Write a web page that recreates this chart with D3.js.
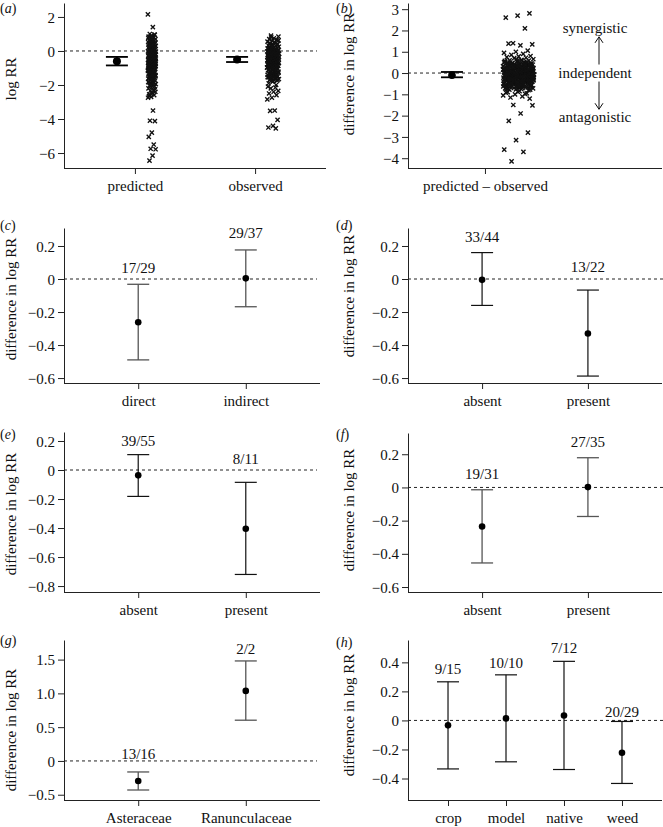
<!DOCTYPE html>
<html><head><meta charset="utf-8">
<script src="https://cdn.jsdelivr.net/npm/d3@7"></script>
<style>
body{margin:0;background:#fff}
svg text{font-family:"Liberation Serif","Times New Roman",serif;fill:#111}
</style>
</head><body>
<svg id="chart" width="663" height="827" font-family="Liberation Serif, Times New Roman, serif"></svg>
<script>
// ---------------- DATA ----------------
// (a) log RR, predicted vs observed
const aCategories = ["predicted", "observed"];
const aMeans = [-0.6, -0.5];
const aLower = [-0.85, -0.65];
const aUpper = [-0.35, -0.35];
const aTicks = [-6, -4, -2, 0, 2];
const aTickLabels = ["\u22126", "\u22124", "\u22122", "0", "2"];
const predictedLogRR = [2.15, 1.4, 1.0, 0.95, 0.9, 0.85, 0.8, 0.75, 0.7, 0.68, 0.62, 0.6, 0.55, 0.52, 0.5, 0.48, 0.45, 0.42, 0.4, 0.38, 0.35, 0.3, 0.28, 0.25, 0.22, 0.2, 0.18, 0.15, 0.12, 0.1, 0.08, 0.05, 0.02, 0.0, -0.02, -0.05, -0.06, -0.08, -0.1, -0.12, -0.15, -0.16, -0.18, -0.2, -0.22, -0.25, -0.26, -0.28, -0.3, -0.32, -0.35, -0.36, -0.38, -0.4, -0.42, -0.45, -0.46, -0.48, -0.5, -0.52, -0.55, -0.57, -0.58, -0.6, -0.62, -0.65, -0.67, -0.68, -0.7, -0.72, -0.75, -0.77, -0.78, -0.8, -0.82, -0.85, -0.87, -0.88, -0.9, -0.92, -0.95, -0.98, -1.0, -1.02, -1.05, -1.08, -1.1, -1.12, -1.15, -1.18, -1.2, -1.25, -1.28, -1.3, -1.32, -1.35, -1.4, -1.42, -1.45, -1.5, -1.55, -1.6, -1.62, -1.65, -1.7, -1.75, -1.78, -1.8, -1.85, -1.9, -1.95, -2.0, -2.05, -2.1, -2.15, -2.2, -2.3, -2.35, -2.4, -2.5, -2.55, -2.6, -2.7, -2.75, -3.5, -4.1, -4.12, -4.8, -5.05, -5.5, -5.75, -5.78, -6.15, -6.45,
  0.97, 0.88, 0.77, 0.66, 0.58, 0.47, 0.36, 0.26, 0.14, 0.04, -0.04, -0.11, -0.14, -0.19, -0.24, -0.27, -0.31, -0.34, -0.39, -0.41, -0.44, -0.49, -0.51, -0.54, -0.56, -0.59, -0.61, -0.64, -0.66, -0.69, -0.71, -0.74, -0.76, -0.79, -0.81, -0.84, -0.86, -0.89, -0.91, -0.94, -0.97, -1.01, -1.04, -1.07, -1.11, -1.14, -1.17, -1.22, -1.27, -1.34, -1.38, -1.44, -1.48, -1.53, -1.58, -1.67, -1.72, -1.83, -1.92, -2.02, -2.25, -2.45, -2.65];
const observedLogRR = [0.9, 0.85, 0.75, 0.7, 0.65, 0.6, 0.55, 0.5, 0.45, 0.4, 0.35, 0.32, 0.3, 0.28, 0.25, 0.22, 0.2, 0.18, 0.15, 0.12, 0.1, 0.08, 0.06, 0.05, 0.02, 0.0, -0.02, -0.03, -0.04, -0.06, -0.08, -0.09, -0.1, -0.12, -0.14, -0.15, -0.16, -0.18, -0.2, -0.21, -0.22, -0.24, -0.26, -0.27, -0.28, -0.3, -0.32, -0.33, -0.34, -0.36, -0.38, -0.39, -0.4, -0.42, -0.44, -0.45, -0.46, -0.48, -0.5, -0.52, -0.53, -0.55, -0.58, -0.6, -0.62, -0.63, -0.65, -0.68, -0.7, -0.72, -0.73, -0.75, -0.78, -0.8, -0.82, -0.83, -0.85, -0.88, -0.9, -0.92, -0.93, -0.95, -0.98, -1.0, -1.02, -1.05, -1.1, -1.12, -1.15, -1.2, -1.22, -1.25, -1.3, -1.32, -1.35, -1.4, -1.42, -1.45, -1.5, -1.52, -1.55, -1.6, -1.62, -1.65, -1.7, -1.72, -1.75, -1.8, -2.1, -2.15, -2.2, -2.35, -2.4, -2.5, -2.6, -2.75, -2.85, -3.5, -3.52, -4.05, -4.4, -4.5, -4.55,
  0.8, 0.62, 0.52, 0.42, 0.37, 0.27, 0.16, 0.11, 0.03, -0.01, -0.05, -0.07, -0.11, -0.13, -0.17, -0.19, -0.23, -0.25, -0.29, -0.31, -0.35, -0.37, -0.41, -0.43, -0.47, -0.49, -0.51, -0.54, -0.56, -0.57, -0.59, -0.61, -0.64, -0.66, -0.67, -0.69, -0.71, -0.74, -0.76, -0.77, -0.79, -0.81, -0.84, -0.86, -0.87, -0.89, -0.91, -0.94, -0.96, -0.97, -0.99, -1.03, -1.07, -1.13, -1.17, -1.24, -1.28, -1.34, -1.38, -1.44, -1.48, -1.54, -1.58, -1.64, -1.68, -1.77, -1.9, -2.0];

// (b) difference in log RR (predicted - observed)
const bCategories = ["predicted \u2013 observed"];
const bMeans = [-0.1];
const bLower = [-0.2];
const bUpper = [0.05];
const bTicks = [-4, -3, -2, -1, 0, 1, 2, 3];
const bTickLabels = ["\u22124", "\u22123", "\u22122", "\u22121", "0", "1", "2", "3"];
const bAnnotations = ["synergistic", "independent", "antagonistic"];
const differenceLogRR = [
  2.8, 2.7, 2.6, 2.1, 1.4, 1.35, 1.3, 1.38, 1.05, 1.0, 0.95, 0.9, 0.85, 0.8, 0.78, 0.75, 0.72,
  0.7, 0.65, 0.62, 0.6, 0.58, 0.55, 0.52, 0.5, 0.48, 0.45, 0.42, 0.4, 0.38, 0.35, 0.32, 0.3, 0.28, 0.25, 0.22, 0.2,
  0.18, 0.15, 0.12, 0.1, 0.08, 0.05, 0.02, 0, -0.02, -0.05, -0.08, -0.1, -0.12, -0.15, -0.18, -0.2, -0.22, -0.25, -0.28, -0.3,
  -0.32, -0.35, -0.38, -0.4, -0.42, -0.45, -0.48, -0.5, -0.52, -0.55, -0.58, -0.6, -0.62, -0.65, -0.68, -0.7, -0.72, -0.75, -0.78, -0.8,
  0.64, 0.57, 0.51, 0.46, 0.41, 0.36, 0.31, 0.26, 0.21, 0.16, 0.11, 0.06, 0.01, -0.04, -0.09, -0.14, -0.19, -0.24, -0.29, -0.34,
  -0.39, -0.44, -0.49, -0.54, -0.59, -0.64, -0.69, -0.74, 0.43, 0.33, 0.23, 0.13, 0.03, -0.07, -0.17, -0.27, -0.37, -0.47, -0.57, -0.67,
  0.47, 0.37, 0.27, 0.17, 0.07, -0.03, -0.13, -0.23, -0.33, -0.43, -0.53, 0.39, 0.29, 0.19, 0.09, -0.01, -0.11, -0.21, -0.31, -0.41,
  0.34, 0.24, 0.14, 0.04, -0.06, -0.16, -0.26, -0.36, -0.46, -0.56, 0.27, 0.12, -0.02, -0.13, -0.24, -0.35, 0.2, 0.06, -0.08, -0.19,
  0.44, 0.31, 0.19, 0.07, -0.05, -0.17, -0.29, -0.41, -0.51, -0.61, 0.53, 0.39, 0.25, 0.11, -0.03, -0.15, -0.27, -0.39, -0.63, -0.71,
  0.15, 0.02, -0.1, -0.22, 0.28, 0.09, -0.04, -0.16, -0.3, -0.44, 0.35, 0.18, 0.04, -0.12, -0.25, -0.38, 0.22, -0.07, -0.2, -0.33,
  0.58, 0.49, 0.4, 0.3, 0.21, 0.12, 0.03, -0.06, -0.15, -0.24, -0.33, -0.42, -0.51, -0.6, -0.69, -0.78,
  0.55, 0.45, 0.36, 0.26, 0.17, 0.08, -0.01, -0.1, -0.19, -0.28, -0.37, -0.46, -0.55, -0.64, -0.73,
  0.52, 0.42, 0.32, 0.22, 0.13, 0.04, -0.05, -0.14, -0.23, -0.32, -0.41, -0.5, -0.59, -0.68, -0.77,
  0.5, 0.41, 0.31, 0.21, 0.1, 0.0, -0.09, -0.18, -0.27, -0.36, -0.45, -0.54, -0.63, -0.72,
  0.46, 0.35, 0.24, 0.14, 0.05, -0.04, -0.13, -0.22, -0.31, -0.4, -0.49, -0.58, -0.66,
  0.38, 0.28, 0.18, 0.08, -0.02, -0.12, -0.21, -0.3, -0.39, -0.48, -0.57,
  0.33, 0.23, 0.11, 0.01, -0.08, -0.17, -0.26, -0.35, -0.44, -0.53, -0.62,
  0.29, 0.16, 0.06, -0.03, -0.11, -0.2, -0.29, -0.38, -0.47,
  0.25, 0.09, -0.06, -0.16, -0.25, -0.34, -0.43, -0.52,
  0.19, 0.02, -0.07, -0.18, -0.28, -0.4,
  -0.85, -0.9, -0.95, -1.0, -1.05, -1.1, -1.15, -1.2, -0.88, -0.92, -0.98,
  -1.5, -1.52, -1.9, -2.25, -2.8, -3.15, -3.6, -3.7, -4.15
];

// (c)-(h) category means with confidence limits and counts
const diffTicks = [-0.6, -0.4, -0.2, 0, 0.2];
const diffTickLabels = ["\u22120.6", "\u22120.4", "\u22120.2", "0", "0.2"];
const eTicks = [-0.8, -0.6, -0.4, -0.2, 0, 0.2];
const eTickLabels = ["\u22120.8", "\u22120.6", "\u22120.4", "\u22120.2", "0", "0.2"];
const gTicks = [-0.5, 0, 0.5, 1.0, 1.5];
const gTickLabels = ["\u22120.5", "0", "0.5", "1.0", "1.5"];
const hTicks = [-0.4, -0.2, 0, 0.2, 0.4];
const hTickLabels = ["\u22120.4", "\u22120.2", "0", "0.2", "0.4"];

const cCategories = ["direct", "indirect"];
const cMeans = [-0.262, 0.004];
const cLower = [-0.49, -0.168];
const cUpper = [-0.032, 0.176];
const cCounts = ["17/29", "29/37"];

const dCategories = ["absent", "present"];
const dMeans = [-0.005, -0.33];
const dLower = [-0.16, -0.588];
const dUpper = [0.16, -0.067];
const dCounts = ["33/44", "13/22"];

const eCategories = ["absent", "present"];
const eMeans = [-0.037, -0.405];
const eLower = [-0.182, -0.72];
const eUpper = [0.106, -0.085];
const eCounts = ["39/55", "8/11"];

const fCategories = ["absent", "present"];
const fMeans = [-0.235, 0.002];
const fLower = [-0.455, -0.175];
const fUpper = [-0.014, 0.179];
const fCounts = ["19/31", "27/35"];

const gCategories = ["Asteraceae", "Ranunculaceae"];
const gMeans = [-0.296, 1.037];
const gLower = [-0.43, 0.603];
const gUpper = [-0.163, 1.48];
const gCounts = ["13/16", "2/2"];

const hCategories = ["crop", "model", "native", "weed"];
const hMeans = [-0.034, 0.014, 0.034, -0.223];
const hLower = [-0.334, -0.285, -0.338, -0.434];
const hUpper = [0.266, 0.314, 0.407, -0.007];
const hCounts = ["9/15", "10/10", "7/12", "20/29"];

// ---------------- DRAWING ----------------
const svg = d3.select("#chart");
const FONT = 15;
const TITLE_DIFF = "difference in log RR";

function jitter(i) { // deterministic low-discrepancy spread in [-0.5, 0.5)
  return ((i * 0.6180339887) % 1) - 0.5;
}

function panel(p) {
  const g = svg.append("g");
  const y = d3.scaleLinear().domain(p.yDomain).range([p.bottom, p.top]);
  const x = d3.scalePoint().domain(p.categories).range([p.left, p.right])
    .padding(p.pad).align(p.align === undefined ? 0.5 : p.align);

  // axes
  const ya = g.append("g").attr("transform", `translate(${p.left},0)`)
    .call(d3.axisLeft(y).tickValues(p.ticks).tickFormat((d, i) => p.tickLabels[i])
      .tickSize(6).tickSizeOuter(0).tickPadding(3));
  const xa = g.append("g").attr("transform", `translate(0,${p.bottom})`)
    .call(d3.axisBottom(x).tickSize(6).tickSizeOuter(0));
  xa.select(".domain").attr("d", `M${p.left},0.5H${p.right}`);
  [ya, xa].forEach(a => {
    a.attr("font-family", null).attr("font-size", null);
    a.selectAll("text").attr("font-size", FONT).attr("fill", "#111");
    a.selectAll("line,path").attr("stroke", "#222");
  });
  ya.selectAll(".tick text").attr("dy", "0.34em");
  xa.selectAll(".tick text").attr("dy", null).attr("y", 23);

  // zero reference
  g.append("line").attr("x1", p.left).attr("x2", p.dashEnd)
    .attr("y1", y(0)).attr("y2", y(0))
    .attr("stroke", "#222").attr("stroke-width", 1).attr("stroke-dasharray", "3,3");

  // title
  g.append("text").attr("transform", `translate(${p.titleX},${p.titleY}) rotate(-90)`)
    .attr("text-anchor", "middle").attr("dy", "0.34em")
    .attr("font-size", FONT).text(p.title);

  // panel letter
  const lab = g.append("text").attr("x", p.labelX).attr("y", p.labelY).attr("font-size", FONT - 1);
  lab.append("tspan").text("(");
  lab.append("tspan").attr("font-style", "italic").text(p.letter);
  lab.append("tspan").text(")");

  // jittered points
  (p.clouds || []).forEach(c => {
    const cx = x(c.category) + c.offset;
    const s = 2.1;
    g.append("g").selectAll("path").data(c.values).join("path")
      .attr("d", (v, i) => {
        const px = cx + jitter(i + c.seed) * c.width;
        const py = y(v);
        return `M${px - s},${py - s}L${px + s},${py + s}M${px - s},${py + s}L${px + s},${py - s}`;
      })
      .attr("stroke", "#111").attr("stroke-width", 1.35).attr("fill", "none");
  });

  // error bars + means
  const eb = g.append("g");
  p.categories.forEach((cat, i) => {
    const cx = x(cat) + (p.meanOffset || 0);
    eb.append("line").attr("x1", cx).attr("x2", cx).attr("y1", y(p.lower[i])).attr("y2", y(p.upper[i]))
      .attr("stroke", p.barColor).attr("stroke-width", p.barWidth);
    [p.lower[i], p.upper[i]].forEach(v => {
      eb.append("line").attr("x1", cx - 11).attr("x2", cx + 11).attr("y1", y(v)).attr("y2", y(v))
        .attr("stroke", p.barColor).attr("stroke-width", p.barWidth);
    });
    eb.append("circle").attr("cx", cx).attr("cy", y(p.means[i])).attr("r", p.dotR).attr("fill", "#000");
    if (p.counts) {
      eb.append("text").attr("x", x(cat)).attr("y", y(p.upper[i]) - p.lift[i]).attr("dy", "0.34em")
        .attr("text-anchor", "middle").attr("font-size", FONT).text(p.counts[i]);
    }
  });
  return { g, x, y };
}

// (a)
panel({
  letter: "a", labelX: 0, labelY: 13, title: "log RR", titleX: 11, titleY: 79,
  categories: aCategories, means: aMeans, lower: aLower, upper: aUpper,
  ticks: aTicks, tickLabels: aTickLabels,
  left: 64, right: 326, top: 3, bottom: 168, yDomain: [-6.88, 2.82], dashEnd: 317,
  pad: 0.59, meanOffset: -18, barColor: "#000", barWidth: 1.8, dotR: 4,
  clouds: [
    { category: "predicted", offset: 17, width: 8, values: predictedLogRR, seed: 0 },
    { category: "observed", offset: 18, width: 12, values: observedLogRR, seed: 7 }
  ]
});

// (b)
const pb = panel({
  letter: "b", labelX: 336, labelY: 13, title: TITLE_DIFF, titleX: 349, titleY: 74,
  categories: bCategories, means: bMeans, lower: bLower, upper: bUpper,
  ticks: bTicks, tickLabels: bTickLabels,
  left: 408, right: 662, top: 3, bottom: 168, yDomain: [-4.46, 3.29], dashEnd: 537,
  pad: 0.6, align: 0.303, meanOffset: -33, barColor: "#000", barWidth: 1.8, dotR: 3.8,
  clouds: [{ category: bCategories[0], offset: 33.5, width: 31, values: differenceLogRR, seed: 3 }]
});
// annotation for (b)
(function () {
  const g = pb.g, y = pb.y;
  const ax = 599;
  const pos = [y(2.1), y(0), y(-2.07)];
  bAnnotations.forEach((t, i) => {
    g.append("text").attr("x", 595).attr("y", pos[i]).attr("dy", "0.32em")
      .attr("text-anchor", "middle").attr("font-size", FONT).text(t);
  });
  const up1 = y(1.7), up2 = y(0.4), dn1 = y(-0.4), dn2 = y(-1.7);
  const arrow = (x0, yStart, yEnd) => {
    const dir = yEnd < yStart ? 1 : -1;
    g.append("path").attr("d", `M${x0},${yStart}L${x0},${yEnd}M${x0 - 4},${yEnd + dir * 6}L${x0},${yEnd}L${x0 + 4},${yEnd + dir * 6}`)
      .attr("stroke", "#111").attr("stroke-width", 1).attr("fill", "none");
  };
  arrow(ax, up2, up1);
  arrow(ax, dn1, dn2);
})();

// (c)
panel({
  letter: "c", labelX: 0, labelY: 230, title: TITLE_DIFF, titleX: 11, titleY: 299,
  categories: cCategories, means: cMeans, lower: cLower, upper: cUpper, counts: cCounts, lift: [16, 17],
  ticks: diffTicks, tickLabels: diffTickLabels,
  left: 64, right: 320, top: 228, bottom: 383, yDomain: [-0.63, 0.309], dashEnd: 317,
  pad: 0.69, barColor: "#555", barWidth: 1.3, dotR: 3.3
});
// (d)
panel({
  letter: "d", labelX: 336, labelY: 230, title: TITLE_DIFF, titleX: 349, titleY: 296,
  categories: dCategories, means: dMeans, lower: dLower, upper: dUpper, counts: dCounts, lift: [15.5, 23.5],
  ticks: diffTicks, tickLabels: diffTickLabels,
  left: 408, right: 662, top: 228, bottom: 383, yDomain: [-0.63, 0.309], dashEnd: 663,
  pad: 0.7, barColor: "#111", barWidth: 1.2, dotR: 3.3
});
// (e)
panel({
  letter: "e", labelX: 0, labelY: 439, title: TITLE_DIFF, titleX: 11, titleY: 514,
  categories: eCategories, means: eMeans, lower: eLower, upper: eUpper, counts: eCounts, lift: [13.5, 23.5],
  ticks: eTicks, tickLabels: eTickLabels,
  left: 64, right: 320, top: 432, bottom: 592, yDomain: [-0.841, 0.262], dashEnd: 317,
  pad: 0.69, barColor: "#111", barWidth: 1.2, dotR: 3.3
});
// (f)
panel({
  letter: "f", labelX: 336, labelY: 439, title: TITLE_DIFF, titleX: 349, titleY: 510,
  categories: fCategories, means: fMeans, lower: fLower, upper: fUpper, counts: fCounts, lift: [15.5, 15.5],
  ticks: diffTicks, tickLabels: diffTickLabels,
  left: 408, right: 662, top: 433, bottom: 592, yDomain: [-0.63, 0.328], dashEnd: 663,
  pad: 0.7, barColor: "#555", barWidth: 1.3, dotR: 3.3
});
// (g)
panel({
  letter: "g", labelX: 0, labelY: 645, title: TITLE_DIFF, titleX: 11, titleY: 730,
  categories: gCategories, means: gMeans, lower: gLower, upper: gUpper, counts: gCounts, lift: [18.5, 12.5],
  ticks: gTicks, tickLabels: gTickLabels,
  left: 64, right: 320, top: 640, bottom: 800, yDomain: [-0.578, 1.79], dashEnd: 317,
  pad: 0.69, barColor: "#555", barWidth: 1.3, dotR: 3.3
});
// (h)
panel({
  letter: "h", labelX: 336, labelY: 647, title: TITLE_DIFF, titleX: 349, titleY: 715,
  categories: hCategories, means: hMeans, lower: hLower, upper: hUpper, counts: hCounts, lift: [12.5, 11.5, 13, 9.5],
  ticks: hTicks, tickLabels: hTickLabels,
  left: 408, right: 662, top: 640, bottom: 800, yDomain: [-0.548, 0.554], dashEnd: 663,
  pad: 0.69, barColor: "#111", barWidth: 1.2, dotR: 3.3
});
</script>
</body></html>
